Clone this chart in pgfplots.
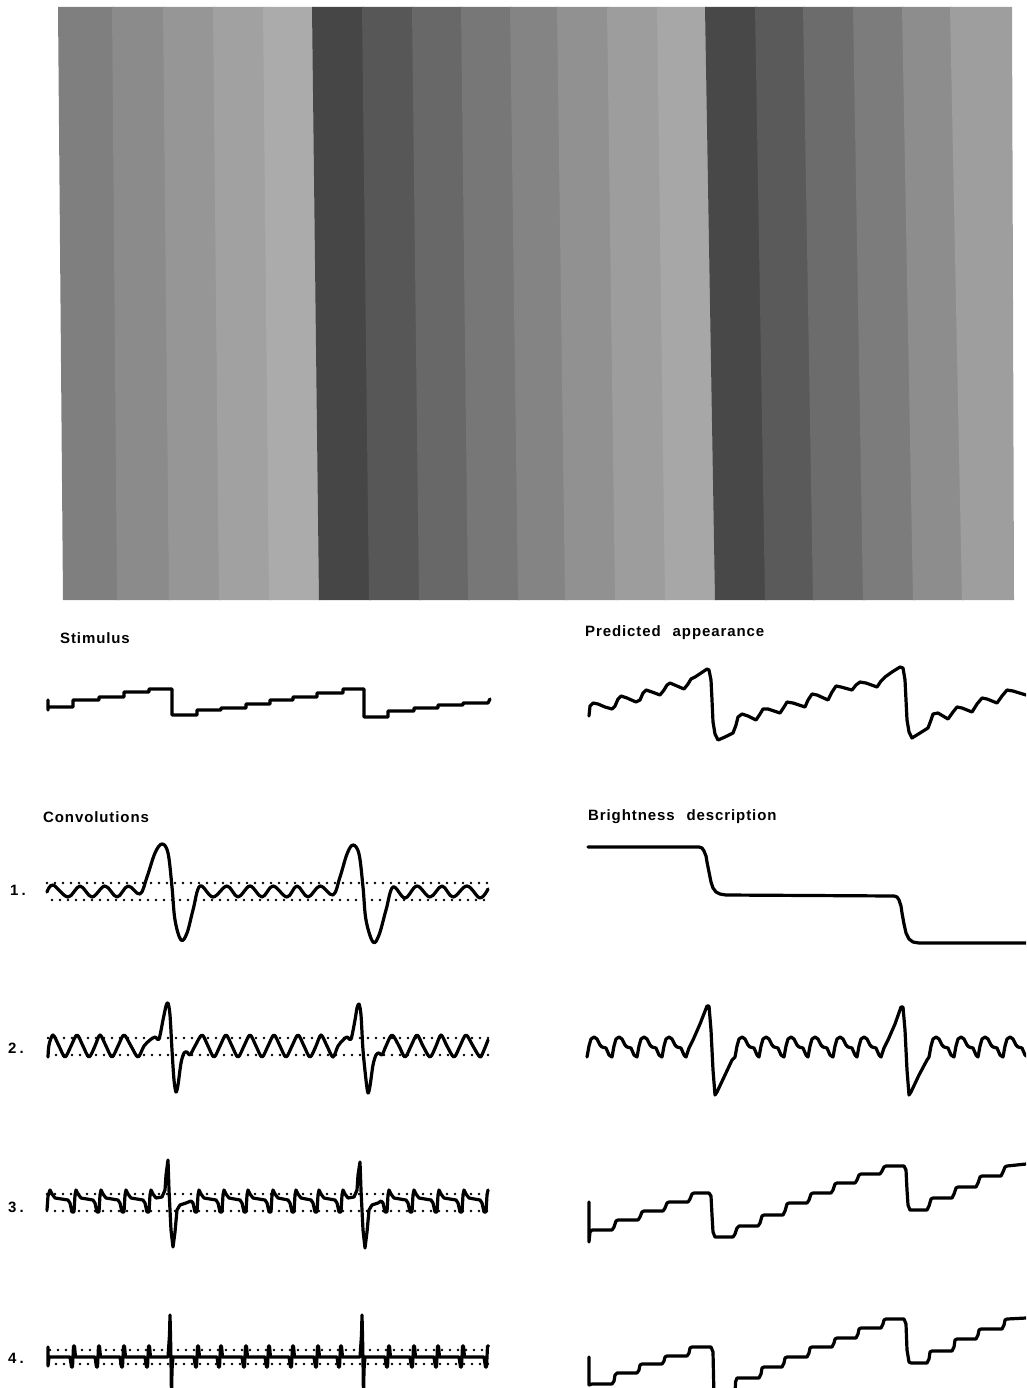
\documentclass[border=0pt]{standalone}
\usepackage{pgfplots}
\pgfplotsset{compat=1.18}
\usepackage{fontspec}
\newfontfamily\lab[LetterSpace=6]{Liberation Sans Bold}
\definecolor{a1}{RGB}{127,127,127}
\definecolor{a2}{RGB}{139,139,139}
\definecolor{a3}{RGB}{150,150,150}
\definecolor{a4}{RGB}{161,161,161}
\definecolor{a5}{RGB}{171,171,171}
\definecolor{b1}{RGB}{70,70,70}
\definecolor{b2}{RGB}{87,87,87}
\definecolor{b3}{RGB}{104,104,104}
\definecolor{b4}{RGB}{119,119,119}
\definecolor{b5}{RGB}{132,132,132}
\definecolor{b6}{RGB}{145,145,145}
\definecolor{b7}{RGB}{157,157,157}
\definecolor{b8}{RGB}{167,167,167}
\definecolor{c1}{RGB}{72,72,72}
\definecolor{c2}{RGB}{90,90,90}
\definecolor{c3}{RGB}{108,108,108}
\definecolor{c4}{RGB}{124,124,124}
\definecolor{c5}{RGB}{141,141,141}
\definecolor{c6}{RGB}{158,158,158}
\pgfplotsset{
  curve/.style={black, line width=3.2pt, line join=round, line cap=round, mark=none},
  dots/.style={black, line width=2.6pt, dash pattern=on 0pt off 8pt, line cap=round, mark=none},
  stripe/.style={draw=none, fill=#1, mark=none},
}
\tikzset{lbl/.style={anchor=base west, inner sep=0pt, font=\lab\fontsize{15}{18}\selectfont}}
\begin{document}
\begin{tikzpicture}
\begin{axis}[width=1026pt, height=1388pt, scale only axis,
  xmin=0, xmax=1026, ymin=0, ymax=1388, y dir=reverse,
  axis line style={draw=none}, xtick=\empty, ytick=\empty, clip=true]
% ---- stripe image (each stripe overlaps the next by 2 px) ----
\addplot[stripe=a1] coordinates {(58,7)(114,7)(119,600)(63,600)};
\addplot[stripe=a2] coordinates {(112,7)(165,7)(171,600)(117,600)};
\addplot[stripe=a3] coordinates {(163,7)(215,7)(221,600)(169,600)};
\addplot[stripe=a4] coordinates {(213,7)(265,7)(271,600)(219,600)};
\addplot[stripe=a5] coordinates {(263,7)(314,7)(321,600)(269,600)};
\addplot[stripe=b1] coordinates {(312,7)(364,7)(371,600)(319,600)};
\addplot[stripe=b2] coordinates {(362,7)(414,7)(421,600)(369,600)};
\addplot[stripe=b3] coordinates {(412,7)(463,7)(470,600)(419,600)};
\addplot[stripe=b4] coordinates {(461,7)(512,7)(520,600)(468,600)};
\addplot[stripe=b5] coordinates {(510,7)(559,7)(567,600)(518,600)};
\addplot[stripe=b6] coordinates {(557,7)(609,7)(617,600)(565,600)};
\addplot[stripe=b7] coordinates {(607,7)(659,7)(667,600)(615,600)};
\addplot[stripe=b8] coordinates {(657,7)(707,7)(717,600)(665,600)};
\addplot[stripe=c1] coordinates {(705,7)(757,7)(767,600)(715,600)};
\addplot[stripe=c2] coordinates {(755,7)(805,7)(815,600)(765,600)};
\addplot[stripe=c3] coordinates {(803,7)(855,7)(865,600)(813,600)};
\addplot[stripe=c4] coordinates {(853,7)(904,7)(915,600)(863,600)};
\addplot[stripe=c5] coordinates {(902,7)(952,7)(964,600)(913,600)};
\addplot[stripe=c6] coordinates {(950,7)(1012,7)(1014,600)(962,600)};
% ---- Stimulus ----
\addplot[curve] coordinates {(48,700)(48,710)(48,707)(73,707)(73,700)(99,700)(99,697)(124,697)(124,692)(149,692)(149,689)(172,689)(172,715)(197,715)(197,710)(221,710)(221,708)(246,708)(246,704)(270,704)(270,700)(293,700)(293,697)(317,697)(317,693)(343,693)(343,689)(364,689)(364,717)(388,717)(388,711)(414,711)(414,708)(438,708)(438,705)(463,705)(463,703)(488,703)(490,699)};
% ---- Predicted appearance ----
\addplot[curve] coordinates {(589,716)(590,706)(593,703)(598,704)(605,707)(612,709)(615,706)(618,699)(621,696)(627,698)(636,702)(640,700)(643,693)(646,690)(652,692)(660,695)(664,690)(667,685)(670,683)(677,686)(684,689)(688,684)(691,679)(695,677)(701,673)(707,669)(709,670)(711,680)(712,700)(713,722)(715,734)(718,740)(725,737)(733,733)(736,725)(738,717)(742,714)(748,716)(756,720)(760,714)(763,709)(768,709)(780,713)(784,707)(787,702)(793,703)(805,707)(808,700)(812,694)(817,695)(828,700)(832,692)(836,686)(841,687)(852,690)(856,685)(860,682)(866,683)(877,687)(881,681)(885,677)(892,672)(900,667)(903,668)(905,680)(906,700)(907,720)(909,732)(912,738)(920,733)(928,728)(931,720)(933,714)(938,713)(948,719)(953,712)(957,707)(962,708)(972,712)(977,704)(982,698)(987,699)(997,703)(1002,696)(1007,690)(1013,691)(1026,695)};
% ---- Convolution 1 ----
\addplot[dots] coordinates {(47,883)(488,883)};
\addplot[dots] coordinates {(52,900)(486,900)};
\addplot[curve, smooth, tension=0.6] coordinates {(47,892)(53,885)(68,897)(80,886)(92,897)(105,886)(117,897)(128,886)(140,894)(147,877)(155,853)(162,844)(168,853)(172,887)(175,920)(181,940)(187,933)(193,910)(200,886)(213,897)(227,886)(238,897)(250,886)(262,897)(273,886)(287,897)(297,886)(308,897)(320,886)(333,895)(340,877)(347,854)(353,845)(359,854)(363,887)(366,920)(373,942)(379,935)(386,910)(393,887)(405,898)(417,886)(430,897)(442,886)(453,897)(467,886)(480,898)(488,889)};
% ---- Convolution 2 ----
\addplot[dots] coordinates {(48,1038)(488,1038)};
\addplot[dots] coordinates {(48,1055)(488,1055)};
\addplot[curve, smooth, tension=0.5] coordinates {(48,1057)(49,1045)(53,1035)(59,1046)(65,1057)(71,1046)(77,1035)(83,1046)(89,1057)(95,1046)(100,1035)(106,1046)(112,1057)(118,1046)(124,1035)(131,1046)(138,1057)(144,1046)(150,1040)(155,1037)(159,1039)(163,1020)(166,1006)(168,1003)(170,1015)(172,1050)(174,1080)(176,1092)(178,1085)(181,1063)(184,1053)(187,1052)(190,1055)(195,1046)(202,1035)(208,1046)(214,1057)(220,1046)(226,1035)(232,1046)(238,1057)(244,1046)(250,1035)(256,1046)(262,1057)(268,1046)(274,1035)(280,1046)(286,1057)(292,1046)(298,1035)(304,1046)(310,1057)(316,1046)(321,1035)(327,1046)(333,1057)(338,1046)(343,1040)(347,1037)(351,1039)(355,1020)(357,1008)(359,1004)(361,1015)(363,1050)(366,1080)(368,1093)(370,1086)(373,1065)(376,1055)(379,1053)(382,1055)(386,1046)(392,1035)(399,1046)(405,1057)(411,1046)(417,1035)(423,1046)(430,1057)(436,1046)(441,1035)(447,1046)(454,1057)(460,1046)(466,1035)(473,1046)(480,1057)(484,1050)(488,1040)};
% ---- Convolution 3 ----
\addplot[dots] coordinates {(47,1194)(488,1194)};
\addplot[dots] coordinates {(47,1211)(488,1211)};
\addplot[curve] coordinates {(47,1210)(48,1196)(50,1190)(52,1194)(55,1198)(68,1200)(70,1203)(72,1212)(74,1212)(75,1195)(76,1190)(78,1194)(81,1198)(93,1200)(95,1203)(97,1212)(99,1212)(100,1195)(101,1190)(103,1194)(106,1198)(118,1200)(120,1203)(122,1212)(124,1212)(125,1195)(126,1190)(128,1194)(131,1198)(143,1200)(145,1203)(147,1212)(149,1212)(150,1195)(151,1190)(153,1194)(156,1198)(162,1197)(165,1190)(166,1175)(168,1160)(169,1190)(171,1230)(173,1247)(175,1232)(177,1210)(180,1205)(186,1203)(191,1201)(193,1203)(195,1212)(197,1212)(198,1195)(199,1190)(201,1194)(204,1198)(216,1200)(218,1203)(220,1212)(222,1212)(223,1195)(224,1190)(226,1194)(229,1198)(240,1200)(242,1203)(244,1212)(246,1212)(247,1195)(248,1190)(250,1194)(253,1198)(265,1200)(267,1203)(269,1212)(271,1212)(272,1195)(273,1190)(275,1194)(278,1198)(288,1200)(290,1203)(292,1212)(294,1212)(295,1195)(296,1190)(298,1194)(301,1198)(311,1200)(313,1203)(315,1212)(317,1212)(318,1195)(319,1190)(321,1194)(324,1198)(335,1200)(337,1203)(339,1212)(341,1212)(342,1195)(343,1190)(345,1194)(348,1198)(354,1197)(357,1190)(358,1175)(360,1162)(361,1190)(363,1230)(365,1248)(367,1232)(369,1210)(372,1205)(378,1203)(381,1201)(383,1203)(385,1212)(387,1212)(388,1195)(389,1190)(391,1194)(394,1198)(406,1200)(408,1203)(410,1212)(412,1212)(413,1195)(414,1190)(416,1194)(419,1198)(431,1200)(433,1203)(435,1212)(437,1212)(438,1195)(439,1190)(441,1194)(444,1198)(456,1200)(458,1203)(460,1212)(462,1212)(463,1195)(464,1190)(466,1194)(469,1198)(480,1200)(482,1203)(484,1212)(486,1212)(487,1195)(488,1190)};
% ---- Convolution 4 ----
\addplot[dots] coordinates {(50,1350)(488,1350)};
\addplot[dots] coordinates {(48,1364)(488,1364)};
\addplot[curve] coordinates {(48,1347)(48,1366)(49,1357)(70,1357)(71.5,1367)(72.5,1367)(73,1357)(73.5,1346)(74.5,1346)(75.5,1357)(95,1357)(96.5,1367)(97.5,1367)(98,1357)(98.5,1346)(99.5,1346)(100.5,1357)(120,1357)(121.5,1367)(122.5,1367)(123,1357)(123.5,1346)(124.5,1346)(125.5,1357)(145,1357)(146.5,1367)(147.5,1367)(148,1357)(148.5,1346)(149.5,1346)(150.5,1357)(168,1357)(169.5,1335)(170,1315)(170.5,1335)(171,1360)(171.5,1398)(172,1370)(173,1357)(194,1357)(195.5,1367)(196.5,1367)(197,1357)(197.5,1346)(198.5,1346)(199.5,1357)(217,1357)(218.5,1367)(219.5,1367)(220,1357)(220.5,1346)(221.5,1346)(222.5,1357)(242,1357)(243.5,1367)(244.5,1367)(245,1357)(245.5,1346)(246.5,1346)(247.5,1357)(265,1357)(266.5,1367)(267.5,1367)(268,1357)(268.5,1346)(269.5,1346)(270.5,1357)(289,1357)(290.5,1367)(291.5,1367)(292,1357)(292.5,1346)(293.5,1346)(294.5,1357)(314,1357)(315.5,1367)(316.5,1367)(317,1357)(317.5,1346)(318.5,1346)(319.5,1357)(337,1357)(338.5,1367)(339.5,1367)(340,1357)(340.5,1346)(341.5,1346)(342.5,1357)(360,1357)(361.5,1335)(362,1315)(362.5,1335)(363,1360)(363.5,1398)(364,1370)(365,1357)(385,1357)(386.5,1367)(387.5,1367)(388,1357)(388.5,1346)(389.5,1346)(390.5,1357)(410,1357)(411.5,1367)(412.5,1367)(413,1357)(413.5,1346)(414.5,1346)(415.5,1357)(434,1357)(435.5,1367)(436.5,1367)(437,1357)(437.5,1346)(438.5,1346)(439.5,1357)(459,1357)(460.5,1367)(461.5,1367)(462,1357)(462.5,1346)(463.5,1346)(464.5,1357)(484,1357)(485.5,1367)(486.5,1367)(487,1357)(487.5,1346)(488.5,1346)};
% ---- Brightness description ----
\addplot[curve] coordinates {(588,847)(699,847)(702,848)(704,851)(706,856)(707,862)(709,872)(711,882)(713,888)(716,892)(720,894)(726,895)(894,896)(897,897)(899,900)(901,906)(902,913)(904,924)(906,933)(909,939)(913,942)(919,943)(1026,943)};
% ---- Right 2 ----
\addplot[curve] coordinates {(587,1057)(589,1046)(591,1039)(594,1037)(597,1039)(600,1045)(602,1047)(606,1048)(609,1055)(612,1057)(614,1046)(616,1039)(619,1037)(622,1039)(625,1045)(627,1047)(631,1048)(634,1055)(637,1057)(639,1046)(641,1039)(644,1037)(647,1039)(650,1045)(652,1047)(656,1048)(659,1055)(662,1057)(664,1046)(666,1039)(669,1037)(672,1039)(675,1045)(677,1047)(681,1048)(684,1055)(686,1057)(689,1048)(693,1040)(700,1024)(707,1006)(709,1006)(711,1030)(713,1070)(715,1095)(717,1092)(725,1075)(732,1060)(735,1057)(737,1046)(739,1039)(742,1037)(745,1039)(748,1045)(750,1047)(754,1048)(757,1055)(759,1057)(761,1046)(763,1039)(766,1037)(769,1039)(772,1045)(774,1047)(778,1048)(781,1055)(784,1057)(786,1046)(788,1039)(791,1037)(794,1039)(797,1045)(799,1047)(803,1048)(806,1055)(808,1057)(810,1046)(812,1039)(815,1037)(818,1039)(821,1045)(823,1047)(827,1048)(830,1055)(833,1057)(835,1046)(837,1039)(840,1037)(843,1039)(846,1045)(848,1047)(852,1048)(855,1055)(857,1057)(859,1046)(861,1039)(864,1037)(867,1039)(870,1045)(872,1047)(876,1048)(879,1055)(881,1057)(884,1048)(888,1040)(895,1024)(901,1007)(903,1007)(905,1030)(907,1070)(909,1095)(911,1092)(919,1075)(927,1060)(929,1057)(931,1046)(933,1039)(936,1037)(939,1039)(942,1045)(944,1047)(948,1048)(951,1055)(954,1057)(956,1046)(958,1039)(961,1037)(964,1039)(967,1045)(969,1047)(973,1048)(976,1055)(978,1057)(980,1046)(982,1039)(985,1037)(988,1039)(991,1045)(993,1047)(997,1048)(1000,1055)(1003,1057)(1005,1046)(1007,1039)(1010,1037)(1013,1039)(1016,1045)(1018,1047)(1022,1048)(1025,1055)(1028,1057)};
% ---- Right 3 ----
\addplot[curve] coordinates {(589,1202)(589,1242)(590,1232)(592,1230)(612,1230)(614,1227)(616,1221)(618,1220)(638,1220)(640,1217)(642,1212)(644,1211)(663,1211)(665,1208)(667,1203)(669,1202)(688,1202)(690,1199)(692,1194)(694,1193)(709,1193)(711,1196)(712,1215)(713,1232)(715,1237)(733,1237)(735,1234)(737,1228)(739,1226)(758,1226)(760,1223)(762,1216)(764,1215)(783,1215)(785,1211)(787,1204)(789,1203)(807,1203)(809,1200)(811,1194)(813,1193)(831,1193)(833,1190)(835,1184)(837,1183)(855,1183)(857,1180)(859,1175)(861,1174)(880,1174)(882,1171)(884,1167)(886,1166)(904,1166)(906,1170)(907,1190)(908,1205)(910,1210)(927,1210)(929,1206)(931,1199)(933,1198)(952,1198)(954,1194)(956,1188)(958,1187)(976,1187)(978,1183)(980,1177)(982,1176)(1001,1176)(1003,1172)(1005,1167)(1007,1166)(1026,1164)};
% ---- Right 4 ----
\addplot[curve] coordinates {(589,1357)(589,1385)(592,1384)(612,1384)(614,1381)(615,1375)(617,1373)(637,1373)(639,1370)(640,1365)(642,1364)(662,1364)(664,1361)(665,1357)(667,1356)(687,1356)(689,1353)(690,1348)(692,1347)(711,1347)(713,1352)(713.5,1375)(714,1398)};
\addplot[curve] coordinates {(735,1398)(735.5,1382)(737,1378)(759,1378)(761,1374)(762,1368)(764,1367)(782,1367)(784,1363)(785,1358)(787,1357)(807,1357)(809,1353)(810,1348)(812,1347)(832,1347)(834,1343)(835,1339)(837,1338)(856,1338)(858,1334)(859,1329)(861,1328)(881,1328)(883,1324)(884,1320)(886,1319)(904,1319)(906,1324)(907,1350)(909,1362)(911,1363)(927,1363)(929,1359)(930,1352)(932,1351)(952,1351)(954,1347)(955,1340)(957,1339)(976,1339)(978,1335)(979,1330)(981,1329)(1002,1329)(1004,1325)(1005,1320)(1007,1319)(1026,1318)};
% ---- labels ----
\node[lbl] at (axis cs:60,643) {Stimulus};
\node[lbl] at (axis cs:585,636) {Predicted\hspace{12pt}appearance};
\node[lbl] at (axis cs:43,822) {Convolutions};
\node[lbl] at (axis cs:588,820) {Brightness\hspace{12pt}description};
\node[lbl] at (axis cs:10,895) {1\hspace{3pt}.};
\node[lbl] at (axis cs:8,1053) {2\hspace{3pt}.};
\node[lbl] at (axis cs:8,1212) {3\hspace{3pt}.};
\node[lbl] at (axis cs:8,1363) {4\hspace{3pt}.};
\end{axis}
\end{tikzpicture}
\end{document}
